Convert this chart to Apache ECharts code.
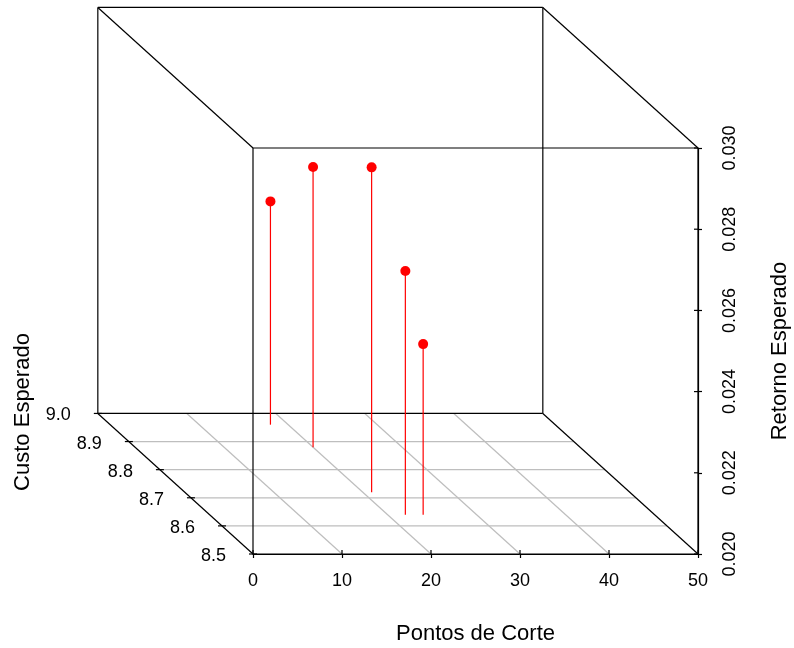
<!DOCTYPE html>
<html>
<head>
<meta charset="utf-8">
<script src="https://cdn.jsdelivr.net/npm/echarts@6/dist/echarts.min.js"></script>
<style>
  html, body { margin: 0; padding: 0; background: #fff; }
  #container { width: 794px; height: 648px; }
</style>
</head>
<body>
<div id="container"></div>
<script>
// Pontos de Corte (x), Custo Esperado (depth), Retorno Esperado (vertical)
var cutPoints      = [18, 20, 21, 22, 24];
var expectedCost   = [8.96, 8.88, 8.72, 8.64, 8.64];
var expectedReturn = [0.0255, 0.0269, 0.0280, 0.0260, 0.0242];

var xRange = [0, 50];
var xStep = 10;
var costTicks = [8.5, 8.6, 8.7, 8.8, 8.9, 9.0];
var returnRange = [0.020, 0.030];
var returnStep = 0.002;

var FONT = '"Liberation Sans", Arial, sans-serif';
var LW = 1.2;
// oblique projection of the depth axis, as a share of the front box size
var DEPTH_DX = -0.3487;
var DEPTH_DY = 0.3462;

var myChart = echarts.init(document.getElementById('container'));

function project(params, api, x, d, z) {
    var cs = params.coordSys;
    var p = api.coord([x, z]);
    var f = (d - costTicks[0]) / (costTicks[costTicks.length - 1] - costTicks[0]);
    return [p[0] + f * DEPTH_DX * cs.width, p[1] - f * DEPTH_DY * cs.height];
}

function seg(a, b, color) {
    return {
        type: 'line',
        shape: { x1: a[0], y1: a[1], x2: b[0], y2: b[1] },
        style: { stroke: color, lineWidth: LW }
    };
}

function renderFrame(params, api) {
    var dMin = costTicks[0], dMax = costTicks[costTicks.length - 1];
    var x0 = xRange[0], x1 = xRange[1];
    var z0 = returnRange[0], z1 = returnRange[1];
    var P = function (x, d, z) { return project(params, api, x, d, z); };
    var grey = '#bebebe', black = '#000';
    var children = [];

    // floor grid
    for (var x = x0 + xStep; x < x1; x += xStep) {
        children.push(seg(P(x, dMin, z0), P(x, dMax, z0), grey));
    }
    costTicks.slice(1, -1).forEach(function (d) {
        children.push(seg(P(x0, d, z0), P(x1, d, z0), grey));
    });

    // back face
    children.push(seg(P(x0, dMax, z0), P(x0, dMax, z1), black));
    children.push(seg(P(x0, dMax, z1), P(x1, dMax, z1), black));
    children.push(seg(P(x1, dMax, z1), P(x1, dMax, z0), black));
    children.push(seg(P(x0, dMax, z0), P(x1, dMax, z0), black));
    // front face
    children.push(seg(P(x0, dMin, z0), P(x0, dMin, z1), black));
    children.push(seg(P(x0, dMin, z1), P(x1, dMin, z1), black));
    children.push(seg(P(x1, dMin, z0), P(x1, dMin, z1), black));
    children.push(seg(P(x0, dMin, z0), P(x1, dMin, z0), black));
    // connecting edges
    children.push(seg(P(x0, dMin, z1), P(x0, dMax, z1), black));
    children.push(seg(P(x1, dMin, z1), P(x1, dMax, z1), black));
    children.push(seg(P(x1, dMin, z0), P(x1, dMax, z0), black));
    children.push(seg(P(x0, dMin, z0), P(x0, dMax, z0), black));

    // depth axis ticks and labels
    costTicks.forEach(function (d) {
        var p = P(x0, d, z0);
        children.push(seg([p[0] - 4, p[1]], [p[0] + 4, p[1]], black));
        children.push({
            type: 'text',
            style: {
                text: d.toFixed(1), x: p[0] - 27, y: p[1] + 2,
                align: 'right', verticalAlign: 'middle',
                font: '18px ' + FONT, fill: black
            }
        });
    });

    // inner half of the front axis ticks
    for (var xt = x0; xt <= x1; xt += xStep) {
        var q = P(xt, dMin, z0);
        children.push(seg(q, [q[0], q[1] - 4], black));
    }
    for (var zt = z0; zt <= z1 + 1e-9; zt += returnStep) {
        var r = P(x1, dMin, zt);
        children.push(seg(r, [r[0] - 4, r[1]], black));
    }

    return { type: 'group', children: children };
}

function renderPoint(params, api) {
    var x = api.value(0), z = api.value(1), d = api.value(2);
    var top = project(params, api, x, d, z);
    var base = project(params, api, x, d, returnRange[0]);
    return {
        type: 'group',
        children: [
            seg(base, top, '#ff0000'),
            { type: 'circle', shape: { cx: top[0], cy: top[1], r: 5 }, style: { fill: '#ff0000' } }
        ]
    };
}

var pointData = cutPoints.map(function (x, i) {
    return [x, expectedReturn[i], expectedCost[i]];
});

var option = {
    animation: false,
    backgroundColor: '#fff',
    textStyle: { fontFamily: FONT },
    grid: { left: 253, right: 96, top: 148, bottom: 94, outerBoundsMode: 'none', containLabel: false },
    xAxis: {
        type: 'value',
        min: xRange[0], max: xRange[1], interval: xStep,
        name: 'Pontos de Corte',
        nameLocation: 'middle',
        nameGap: 69,
        nameTextStyle: { fontSize: 22, color: '#000', fontFamily: FONT },
        axisLine: { onZero: false, lineStyle: { color: '#000', width: LW } },
        axisTick: { length: 4, lineStyle: { color: '#000', width: LW } },
        axisLabel: { fontSize: 18, color: '#000', margin: 18, fontFamily: FONT },
        splitLine: { show: false }
    },
    yAxis: {
        type: 'value',
        position: 'right',
        min: returnRange[0], max: returnRange[1], interval: returnStep,
        name: 'Retorno Esperado',
        nameLocation: 'middle',
        nameGap: 71,
        nameTextStyle: { fontSize: 22, color: '#000', fontFamily: FONT },
        axisLine: { show: true, onZero: false, lineStyle: { color: '#000', width: LW } },
        axisTick: { show: true, length: 4, lineStyle: { color: '#000', width: LW } },
        axisLabel: {
            fontSize: 18, color: '#000', margin: 23, rotate: 90, fontFamily: FONT,
            formatter: function (v) { return v.toFixed(3); }
        },
        splitLine: { show: false }
    },
    graphic: [{
        type: 'text',
        x: 23, y: 412,
        rotation: Math.PI / 2,
        style: {
            text: 'Custo Esperado',
            align: 'center', verticalAlign: 'middle',
            font: '22px ' + FONT, fill: '#000'
        }
    }],
    series: [{
        type: 'custom',
        silent: true,
        clip: false,
        data: [[xRange[0], returnRange[0]]],
        renderItem: renderFrame,
        z: 1
    }, {
        type: 'custom',
        silent: true,
        clip: false,
        data: pointData,
        encode: { x: 0, y: 1 },
        renderItem: renderPoint,
        z: 3
    }]
};

myChart.setOption(option);
</script>
</body>
</html>
